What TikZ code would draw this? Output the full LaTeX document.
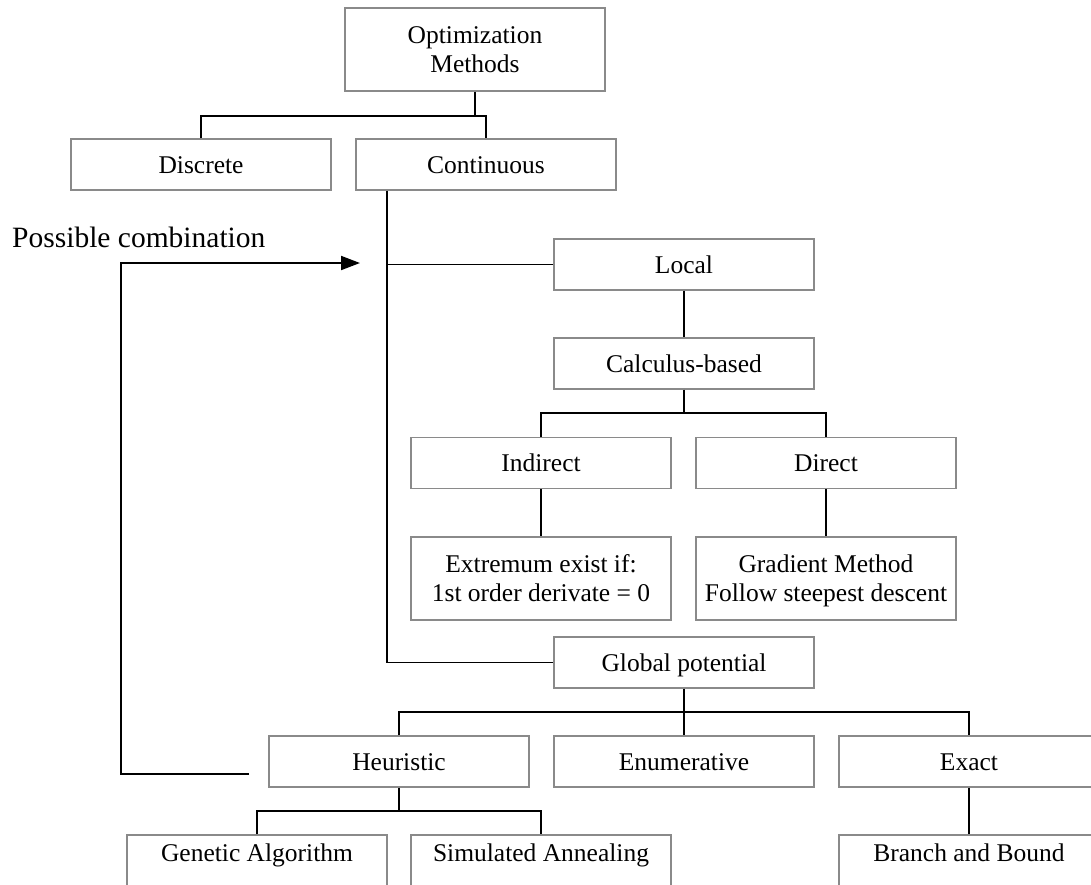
\documentclass[tikz,border=0pt]{standalone}
\usepackage{fontspec}
\setmainfont{Liberation Serif}
\usetikzlibrary{arrows.meta}
\definecolor{boxgray}{HTML}{8A8A8A}
\begin{document}
\begin{tikzpicture}[x=1pt,y=-1pt,
  box/.style={draw=boxgray, line width=1.4pt, minimum width=260pt, minimum height=51pt,
    inner sep=0pt, align=center, font=\fontsize{25.5}{29.5}\selectfont,
    text height=17pt, text depth=0pt},
  tallbox/.style={box, minimum height=83pt, text height=46.5pt, text depth=0.5pt},
  cutbox/.style={box, text height=17pt, text depth=16pt},
  conn/.style={line width=1.9pt, draw=black}]
\useasboundingbox (0,0) rectangle (1091,884);
\clip (0,0) rectangle (1091,884);

% nodes
\node[tallbox] (top) at (475,49.5) {Optimization\\Methods};
\node[box] (disc) at (201,164.5) {Discrete};
\node[box] (cont) at (486,164.5) {Continuous};
\node[box] (local) at (684,264.5) {Local};
\node[box] (calc) at (684,363.5) {Calculus-based};
\node[box] (ind) at (541,463) {Indirect};
\node[box] (dir) at (826,463) {Direct};
\node[tallbox] (ext) at (541,578.5) {Extremum exist if:\\1st order derivate = 0};
\node[tallbox] (grad) at (826,578.5) {Gradient Method\\Follow steepest descent};
\node[box] (glob) at (684,662.5) {Global potential};
\node[box] (heur) at (399,761.5) {Heuristic};
\node[box] (enum) at (684,761.5) {Enumerative};
\node[box] (exact) at (969,761.5) {Exact};
\node[cutbox] (gen) at (257,860.5) {Genetic Algorithm};
\node[cutbox] (sim) at (541,860.5) {Simulated Annealing};
\node[cutbox] (bb) at (969,860.5) {Branch and Bound};

\node[anchor=base west, inner sep=0pt, font=\fontsize{29.5}{33}\selectfont] (pc) at (12,247) {Possible combination};

% helper coordinates
\coordinate (b1) at (475,116);
\coordinate (trunk) at (387,0);
\coordinate (b2) at (684,413);
\coordinate (b3) at (684,712);
\coordinate (b4) at (399,811);
\coordinate (fbs) at (249,774);
\coordinate (fbc) at (121,774);
\coordinate (fbe) at (360,263);

% connectors
\draw[conn] (top.south) -- (b1);
\draw[conn] (disc.north) |- (b1) -| (cont.north);
\draw[conn] (cont.south -| trunk) |- (glob.west);
\draw[conn] (local.west) -- (local.west -| trunk);
\draw[conn] (local.south) -- (calc.north);
\draw[conn] (calc.south) -- (b2);
\draw[conn] (ind.north) |- (b2) -| (dir.north);
\draw[conn] (ind.south) -- (ext.north);
\draw[conn] (dir.south) -- (grad.north);
\draw[conn] (glob.south) -- (enum.north);
\draw[conn] (heur.north) |- (b3) -| (exact.north);
\draw[conn] (heur.south) -- (b4);
\draw[conn] (gen.north) |- (b4) -| (sim.north);
\draw[conn] (exact.south) -- (bb.north);
\draw[conn, -{Triangle[length=19pt,width=14pt]}] (fbs) -- (fbc) |- (fbe);
\end{tikzpicture}
\end{document}
